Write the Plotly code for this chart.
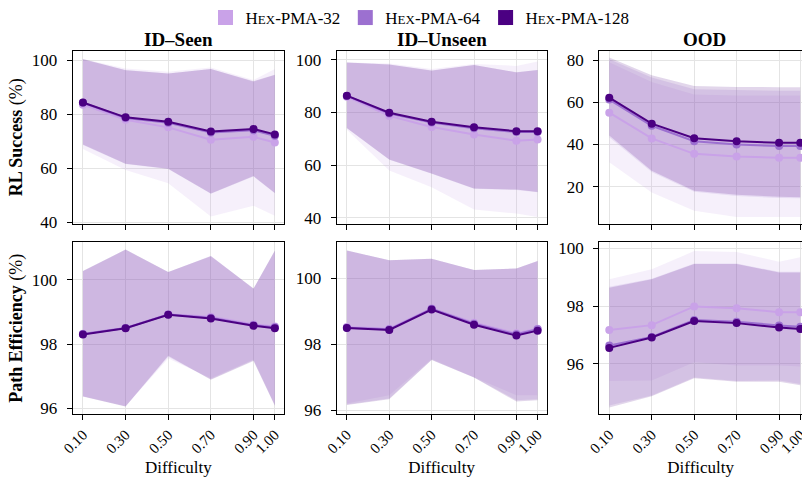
import plotly.graph_objects as go

# Difficulty levels (x axis)
DIFFICULTY = [0.10, 0.30, 0.50, 0.70, 0.90, 1.00]
DIFF_LABELS = ["0.10", "0.30", "0.50", "0.70", "0.90", "1.00"]

MODELS = ["32", "64", "128"]
MODEL_NAMES = [
    "H<span style='font-size:13px'>EX</span>-PMA-32",
    "H<span style='font-size:13px'>EX</span>-PMA-64",
    "H<span style='font-size:13px'>EX</span>-PMA-128",
]
MODEL_COLORS = ["#c9a2e8", "#9c70d0", "#4b0082"]
BAND_ALPHA = 0.16

# ---- RL success (%), ID-Seen: mean / lower / upper per model (32, 64, 128)
seen_rl_mean = [
    [83.5, 77.9, 75.1, 70.5, 71.6, 69.5],
    [84.2, 78.6, 76.8, 73.2, 74.0, 72.0],
    [84.3, 78.8, 77.2, 73.6, 74.5, 72.5],
]
seen_rl_lo = [
    [67.1, 59.3, 54.4, 42.1, 46.1, 42.4],
    [68.6, 61.5, 59.7, 50.5, 56.9, 50.7],
    [68.8, 61.6, 59.8, 50.6, 57.1, 50.8],
]
seen_rl_hi = [
    [100.4, 96.9, 95.7, 97.3, 92.6, 96.7],
    [100.2, 96.3, 95.0, 96.7, 92.0, 94.5],
    [100.4, 96.2, 95.0, 96.7, 92.2, 94.6],
]

# ---- RL success (%), ID-Unseen
unseen_rl_mean = [
    [86.0, 78.7, 74.5, 71.6, 69.3, 69.7],
    [86.3, 79.6, 76.2, 74.0, 72.6, 72.6],
    [86.4, 79.9, 76.5, 74.4, 72.9, 72.9],
]
unseen_rl_lo = [
    [73.4, 58.0, 51.6, 43.1, 41.6, 40.3],
    [74.0, 62.0, 56.7, 51.0, 50.6, 49.7],
    [74.1, 62.1, 56.8, 51.1, 50.7, 49.8],
]
unseen_rl_hi = [
    [99.0, 98.6, 96.5, 98.4, 97.7, 99.4],
    [99.0, 98.2, 95.9, 98.0, 95.2, 96.1],
    [99.0, 98.2, 96.0, 98.0, 95.3, 96.1],
]

# ---- RL success (%), OOD
ood_rl_mean = [
    [55.1, 42.9, 35.6, 34.3, 33.7, 33.7],
    [61.3, 48.9, 41.6, 40.0, 39.3, 39.3],
    [62.2, 49.9, 43.0, 41.6, 40.8, 40.8],
]
ood_rl_lo = [
    [31.6, 17.3, 8.6, 5.7, 5.6, 5.6],
    [43.5, 27.0, 17.6, 15.6, 14.6, 14.5],
    [44.3, 27.6, 18.1, 16.2, 15.2, 15.0],
]
ood_rl_hi = [
    [79.0, 69.7, 63.7, 63.3, 63.3, 63.3],
    [80.5, 71.8, 66.2, 65.7, 65.5, 65.5],
    [81.3, 72.9, 67.8, 67.3, 67.2, 67.2],
]

# ---- Path efficiency (%), ID-Seen
seen_pe_mean = [
    [98.32, 98.50, 98.93, 98.85, 98.62, 98.55],
    [98.31, 98.50, 98.92, 98.82, 98.59, 98.52],
    [98.30, 98.49, 98.91, 98.80, 98.57, 98.49],
]
seen_pe_lo = [
    [96.37, 96.06, 97.55, 96.93, 97.52, 96.10],
    [96.36, 96.05, 97.60, 96.90, 97.49, 96.08],
    [96.36, 96.05, 97.63, 96.88, 97.47, 96.07],
]
seen_pe_hi = [
    [100.27, 100.94, 100.24, 100.76, 99.72, 100.90],
    [100.28, 100.95, 100.25, 100.75, 99.73, 100.91],
    [100.28, 100.95, 100.25, 100.74, 99.73, 100.92],
]

# ---- Path efficiency (%), ID-Unseen
unseen_pe_mean = [
    [98.52, 98.47, 99.08, 98.65, 98.33, 98.47],
    [98.50, 98.45, 99.07, 98.62, 98.30, 98.45],
    [98.49, 98.43, 99.05, 98.59, 98.26, 98.41],
]
unseen_pe_lo = [
    [96.20, 96.45, 97.55, 97.00, 96.45, 96.45],
    [96.17, 96.35, 97.53, 96.99, 96.30, 96.33],
    [96.16, 96.33, 97.52, 96.99, 96.26, 96.30],
]
unseen_pe_hi = [
    [100.84, 100.54, 100.59, 100.25, 100.29, 100.52],
    [100.84, 100.54, 100.59, 100.25, 100.29, 100.52],
    [100.84, 100.54, 100.59, 100.25, 100.29, 100.52],
]

# ---- Path efficiency (%), OOD
ood_pe_mean = [
    [97.17, 97.34, 97.99, 97.93, 97.79, 97.79],
    [96.63, 96.93, 97.52, 97.46, 97.33, 97.28],
    [96.55, 96.91, 97.48, 97.41, 97.26, 97.21],
]
ood_pe_lo = [
    [95.40, 95.42, 96.05, 95.94, 95.94, 95.90],
    [94.55, 94.90, 95.52, 95.40, 95.42, 95.30],
    [94.48, 94.87, 95.50, 95.37, 95.37, 95.25],
]
ood_pe_hi = [
    [98.93, 99.28, 99.91, 99.88, 99.54, 99.70],
    [98.67, 98.95, 99.48, 99.48, 99.19, 99.19],
    [98.64, 98.93, 99.46, 99.46, 99.17, 99.17],
]

PANELS = [
    # (row, col, mean, lo, hi, y range, y ticks)
    (1, 1, seen_rl_mean, seen_rl_lo, seen_rl_hi, [39.4, 103.4], [40, 60, 80, 100]),
    (1, 2, unseen_rl_mean, unseen_rl_lo, unseen_rl_hi, [37.7, 103.4], [40, 60, 80, 100]),
    (1, 3, ood_rl_mean, ood_rl_lo, ood_rl_hi, [2.4, 84.4], [20, 40, 60, 80]),
    (2, 1, seen_pe_mean, seen_pe_lo, seen_pe_hi, [95.81, 101.18], [96, 98, 100]),
    (2, 2, unseen_pe_mean, unseen_pe_lo, unseen_pe_hi, [95.88, 101.09], [96, 98, 100]),
    (2, 3, ood_pe_mean, ood_pe_lo, ood_pe_hi, [94.25, 100.22], [96, 98, 100]),
]

COL_TITLES = ["<b>ID–Seen</b>", "<b>ID–Unseen</b>", "<b>OOD</b>"]
ROW_TITLES = ["<b>RL Success</b> (%)", "<b>Path Efficiency</b> (%)"]

W, H = 802, 478
FONT = "'Liberation Serif', 'DejaVu Serif', serif"

# plot-area geometry in pixels
COL_PX = [(72.7, 284.0), (336.7, 546.7), (599.3, 802.0)]
ROW_PX = [(50.0, 223.3), (241.7, 414.0)]
X_RANGES = [[0.052, 1.043], [0.052, 1.043], [0.053, 1.008]]


def rgba(hex_color, a):
    h = hex_color.lstrip("#")
    r, g, b = int(h[0:2], 16), int(h[2:4], 16), int(h[4:6], 16)
    return f"rgba({r},{g},{b},{a})"


fig = go.Figure()
layout = {}

for idx, (row, col, mean, lo, hi, yr, yt) in enumerate(PANELS):
    n = idx + 1
    xa = "x" if n == 1 else f"x{n}"
    ya = "y" if n == 1 else f"y{n}"
    # shaded spread bands first
    for m in range(3):
        fig.add_trace(go.Scatter(
            x=DIFFICULTY + DIFFICULTY[::-1],
            y=hi[m] + lo[m][::-1],
            fill="toself", fillcolor=rgba(MODEL_COLORS[m], BAND_ALPHA),
            line=dict(width=0), mode="lines", hoverinfo="skip",
            showlegend=False, xaxis=xa, yaxis=ya,
        ))
    # mean curves on top
    for m in range(3):
        fig.add_trace(go.Scatter(
            x=DIFFICULTY, y=mean[m], mode="lines+markers",
            line=dict(color=MODEL_COLORS[m], width=2),
            marker=dict(color=MODEL_COLORS[m], size=8),
            showlegend=False, xaxis=xa, yaxis=ya,
        ))

    x0, x1 = COL_PX[col - 1]
    y0, y1 = ROW_PX[row - 1]
    xkey = "xaxis" if n == 1 else f"xaxis{n}"
    ykey = "yaxis" if n == 1 else f"yaxis{n}"
    layout[xkey] = dict(
        domain=[x0 / W, x1 / W], anchor=ya, range=X_RANGES[col - 1],
        automargin=False,
        tickvals=DIFFICULTY, ticktext=DIFF_LABELS, tickangle=-45,
        showticklabels=(row == 2), ticks="outside", ticklen=5,
        tickcolor="black", showline=True, linecolor="black", linewidth=1.2,
        mirror=True, showgrid=True, gridcolor="#e4e4e4", gridwidth=1,
        zeroline=False, ticklabeloverflow="allow",
        tickfont=dict(size=15, family=FONT, color="black"),
        title=dict(text="Difficulty" if row == 2 else "",
                   font=dict(size=17, family=FONT, color="black"), standoff=5),
    )
    layout[ykey] = dict(
        domain=[1 - y1 / H, 1 - y0 / H], anchor=xa, range=yr, tickvals=yt,
        automargin=False,
        ticks="outside", ticklen=5, tickcolor="black", showline=True,
        linecolor="black", linewidth=1.2, mirror=(col != 3),
        showgrid=True, gridcolor="#e4e4e4", gridwidth=1, zeroline=False,
        ticklabelstandoff=6,
        tickfont=dict(size=17, family=FONT, color="black"),
        title=dict(text=ROW_TITLES[row - 1] if col == 1 else "",
                   font=dict(size=18, family=FONT, color="black"), standoff=4),
    )

# legend entries
for m in range(3):
    fig.add_trace(go.Scatter(
        x=[None], y=[None], mode="markers", name=MODEL_NAMES[m],
        marker=dict(symbol="square", size=15, color=MODEL_COLORS[m]),
        showlegend=True,
    ))

annotations = []
col_centers = [(COL_PX[0][0] + COL_PX[0][1]) / 2,
               (COL_PX[1][0] + COL_PX[1][1]) / 2,
               704.4]
for c in range(3):
    annotations.append(dict(
        text=COL_TITLES[c], x=col_centers[c] / W, y=1 - 39 / H,
        xref="paper", yref="paper", showarrow=False,
        xanchor="center", yanchor="middle",
        font=dict(size=19, family=FONT, color="black"),
    ))

fig.update_layout(
    width=W, height=H, margin=dict(l=0, r=0, t=0, b=0),
    plot_bgcolor="white", paper_bgcolor="white",
    font=dict(family=FONT, color="black"),
    legend=dict(orientation="h", x=420 / W, xanchor="center",
                y=1 - 17 / H, yanchor="middle",
                font=dict(size=17, family=FONT, color="black"),
                itemsizing="trace", tracegroupgap=0,
                bgcolor="rgba(0,0,0,0)"),
    annotations=annotations,
    **layout,
)

fig.write_html("out.html")
